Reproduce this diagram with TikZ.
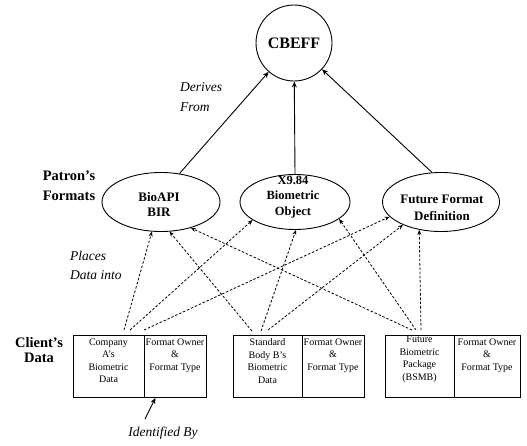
\documentclass[tikz,border=0pt]{standalone}
\usepackage{fontspec}
\setmainfont{Liberation Serif}
\usetikzlibrary{shapes.geometric,arrows.meta}
\begin{document}
\begin{tikzpicture}[x=1pt,y=-1pt,
  ell/.style={ellipse,draw,line width=0.9pt,inner sep=0pt},
  elltxt/.style={align=center,inner sep=0pt,font=\fontsize{13}{14.5}\selectfont\bfseries},
  solidarr/.style={line width=0.9pt,-{Stealth[length=6pt,width=5pt]}},
  dasharr/.style={line width=0.8pt,dash pattern=on 2.5pt off 1.8pt,-{Stealth[length=5pt,width=4pt]}},
  boxpart/.style={draw,line width=0.9pt,minimum height=62pt,inner sep=0pt,anchor=north west},
  boxtxt/.style={font=\fontsize{10}{12.5}\selectfont,align=center,inner sep=0pt,anchor=north},
  lbl/.style={font=\fontsize{14.5}{20}\selectfont\bfseries,align=center,inner sep=0pt},
  itl/.style={font=\fontsize{13.5}{19.5}\selectfont\itshape,align=left,inner sep=0pt,anchor=west}
]
\useasboundingbox (0,0) rectangle (527,445);

% top circle
\node[circle,draw,line width=0.9pt,minimum size=76pt,inner sep=0pt,font=\fontsize{16}{18}\selectfont\bfseries] (cbeff) at (294,43) {CBEFF};

% patron formats
\node[ell,minimum width=118pt,minimum height=59pt] (bio) at (161,202) {};
\node[ell,minimum width=110pt,minimum height=55pt] (x9) at (295,202) {};
\node[ell,minimum width=117pt,minimum height=59pt] (fut) at (441,202) {};
\node[elltxt] (biot) at (159,204.5) {BioAPI\\BIR};
\node[elltxt,font=\fontsize{12.5}{15.5}\selectfont\bfseries] (x9t) at (293,197) {X9.84\\Biometric\\Object};
\node[elltxt,font=\fontsize{13}{17}\selectfont\bfseries] (futt) at (442,208) {Future Format\\Definition};

% labels
\node[itl] (derives) at (180,97) {Derives\\From};
\node[lbl] (patron) at (69,186) {Patron's\\Formats};
\node[itl] (places) at (70,265.5) {Places\\Data into};
\node[lbl,font=\fontsize{14.5}{15.5}\selectfont\bfseries] (client) at (39,350) {Client's\\Data};
\node[itl,anchor=center] (idby) at (163,433) {Identified By};

% client boxes
\node[boxpart,minimum width=71pt] (a1) at (73,335) {};
\node[boxpart,minimum width=62pt] (a1r) at (144,335) {};
\node[boxpart,minimum width=69pt] (b1) at (233,335) {};
\node[boxpart,minimum width=62pt] (b1r) at (302,335) {};
\node[boxpart,minimum width=69pt] (c1) at (385,335) {};
\node[boxpart,minimum width=66pt] (c1r) at (454,335) {};

\node[boxtxt] (ta1) at (108.5,338.5) {Company\\A's\\Biometric\\Data};
\node[boxtxt] (ta1r) at (175,338.5) {Format Owner\\\&\\Format Type};
\node[boxtxt] (tb1) at (267.5,338.5) {Standard\\Body B's\\Biometric\\Data};
\node[boxtxt] (tb1r) at (333,338.5) {Format Owner\\\&\\Format Type};
\node[boxtxt] (tc1) at (419.5,336) {Future\\Biometric\\Package\\(BSMB)};
\node[boxtxt] (tc1r) at (487,338.5) {Format Owner\\\&\\Format Type};

% derives arrows
\draw[solidarr] (bio.57) -- (cbeff);
\draw[solidarr] (x9.north) -- (cbeff);
\draw[solidarr] (fut.107) -- (cbeff);

% places data into arrows
\coordinate (s11) at (124,330);
\coordinate (s12) at (130,330);
\coordinate (s13) at (144,330);
\coordinate (s21) at (252,331);
\coordinate (s22) at (261,331);
\coordinate (s23) at (268,330);
\coordinate (s31) at (412,330);
\coordinate (s32) at (416,330);
\coordinate (s33) at (421,330);

\draw[dasharr] (s11) -- (bio.-107.2);
\draw[dasharr] (s12) -- (x9.-157.1);
\draw[dasharr] (s13) -- (fut.-164.2);
\draw[dasharr] (s21) -- (bio.-74.7);
\draw[dasharr] (s22) -- (x9.-88);
\draw[dasharr] (s23) -- (fut.-149.5);
\draw[dasharr] (s31) -- (bio.-41.5);
\draw[dasharr] (s32) -- (x9.-21.7);
\draw[dasharr] (s33) -- (fut.-128.9);

% identified by
\coordinate (idstart) at (145,419);
\draw[solidarr] (idstart) -- ([xshift=-20pt]a1r.south);
\end{tikzpicture}
\end{document}
